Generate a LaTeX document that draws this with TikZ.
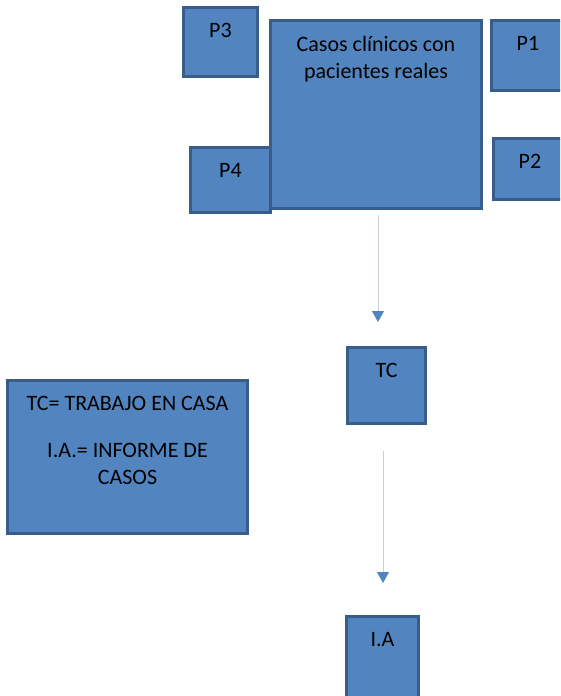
\documentclass[tikz,border=0pt]{standalone}
\usepackage{fontspec}
\setmainfont{Carlito}
\usetikzlibrary{positioning,arrows.meta}
\definecolor{boxblue}{RGB}{82,133,192}
\definecolor{boxedge}{RGB}{56,93,138}
\definecolor{stem}{RGB}{198,206,220}

\begin{document}
\begin{tikzpicture}[x=1pt,y=-1pt,
  font=\fontsize{22}{27}\selectfont,
  box/.style={draw=boxedge,fill=boxblue,line width=3pt,anchor=north west,inner sep=0pt},
  lbl/.style={inner sep=0pt,align=center},
  flow/.style={draw=stem,line width=0.8pt,-{Triangle[width=12pt,length=11pt,color=boxblue]}}]

\useasboundingbox (0,0) rectangle (560,696);
\clip (0,0) rectangle (560,696);

%boxes round the main one
  \node[box,minimum width=74pt,minimum height=69pt] (p3) at (182,6) {};
  \node[box,minimum width=80pt,minimum height=65pt] (p4) at (189,146) {};
  \node[box,minimum width=211pt,minimum height=188pt] (main) at (269,19) {};
  \node[box,minimum width=73pt,minimum height=70pt] (p1) at (490,19) {};
  \node[box,minimum width=73pt,minimum height=61pt] (p2) at (492,137) {};

%flow down
  \node[box,minimum width=78pt,minimum height=76pt] (tc) at (346,346) {};
  \node[box,minimum width=72pt,minimum height=90pt] (ia) at (345,615) {};
  \node[box,minimum width=240pt,minimum height=153pt] (legend) at (6,379) {};

%texts at the top of each box
  \node[lbl,below=17pt of p3.north] (p3t) {P3};
  \node[lbl,below=17pt of p4.north] (p4t) {P4};
  \node[lbl,below=17pt of main.north] (maint) {Casos clínicos con\\pacientes reales};
  \node[lbl,below=17pt of p1.north] (p1t) {P1};
  \node[lbl,below=17pt of p2.north] (p2t) {P2};
  \node[lbl,below=17pt of tc.north] (tct) {TC};
  \node[lbl,below=17pt of ia.north] (iat) {I.A};
  \node[lbl,below=17pt of legend.north] (legendt) {TC= TRABAJO EN CASA\\[20pt]I.A.= INFORME DE\\CASOS};

%arrows
  \draw[flow] ([xshift=2pt,yshift=-5pt]main.south) -- ([xshift=-8.5pt,yshift=24pt]tc.north);
  \draw[flow] ([xshift=-3.5pt,yshift=-26pt]tc.south) -- ([xshift=0.5pt,yshift=32pt]ia.north);

\end{tikzpicture}
\end{document}
